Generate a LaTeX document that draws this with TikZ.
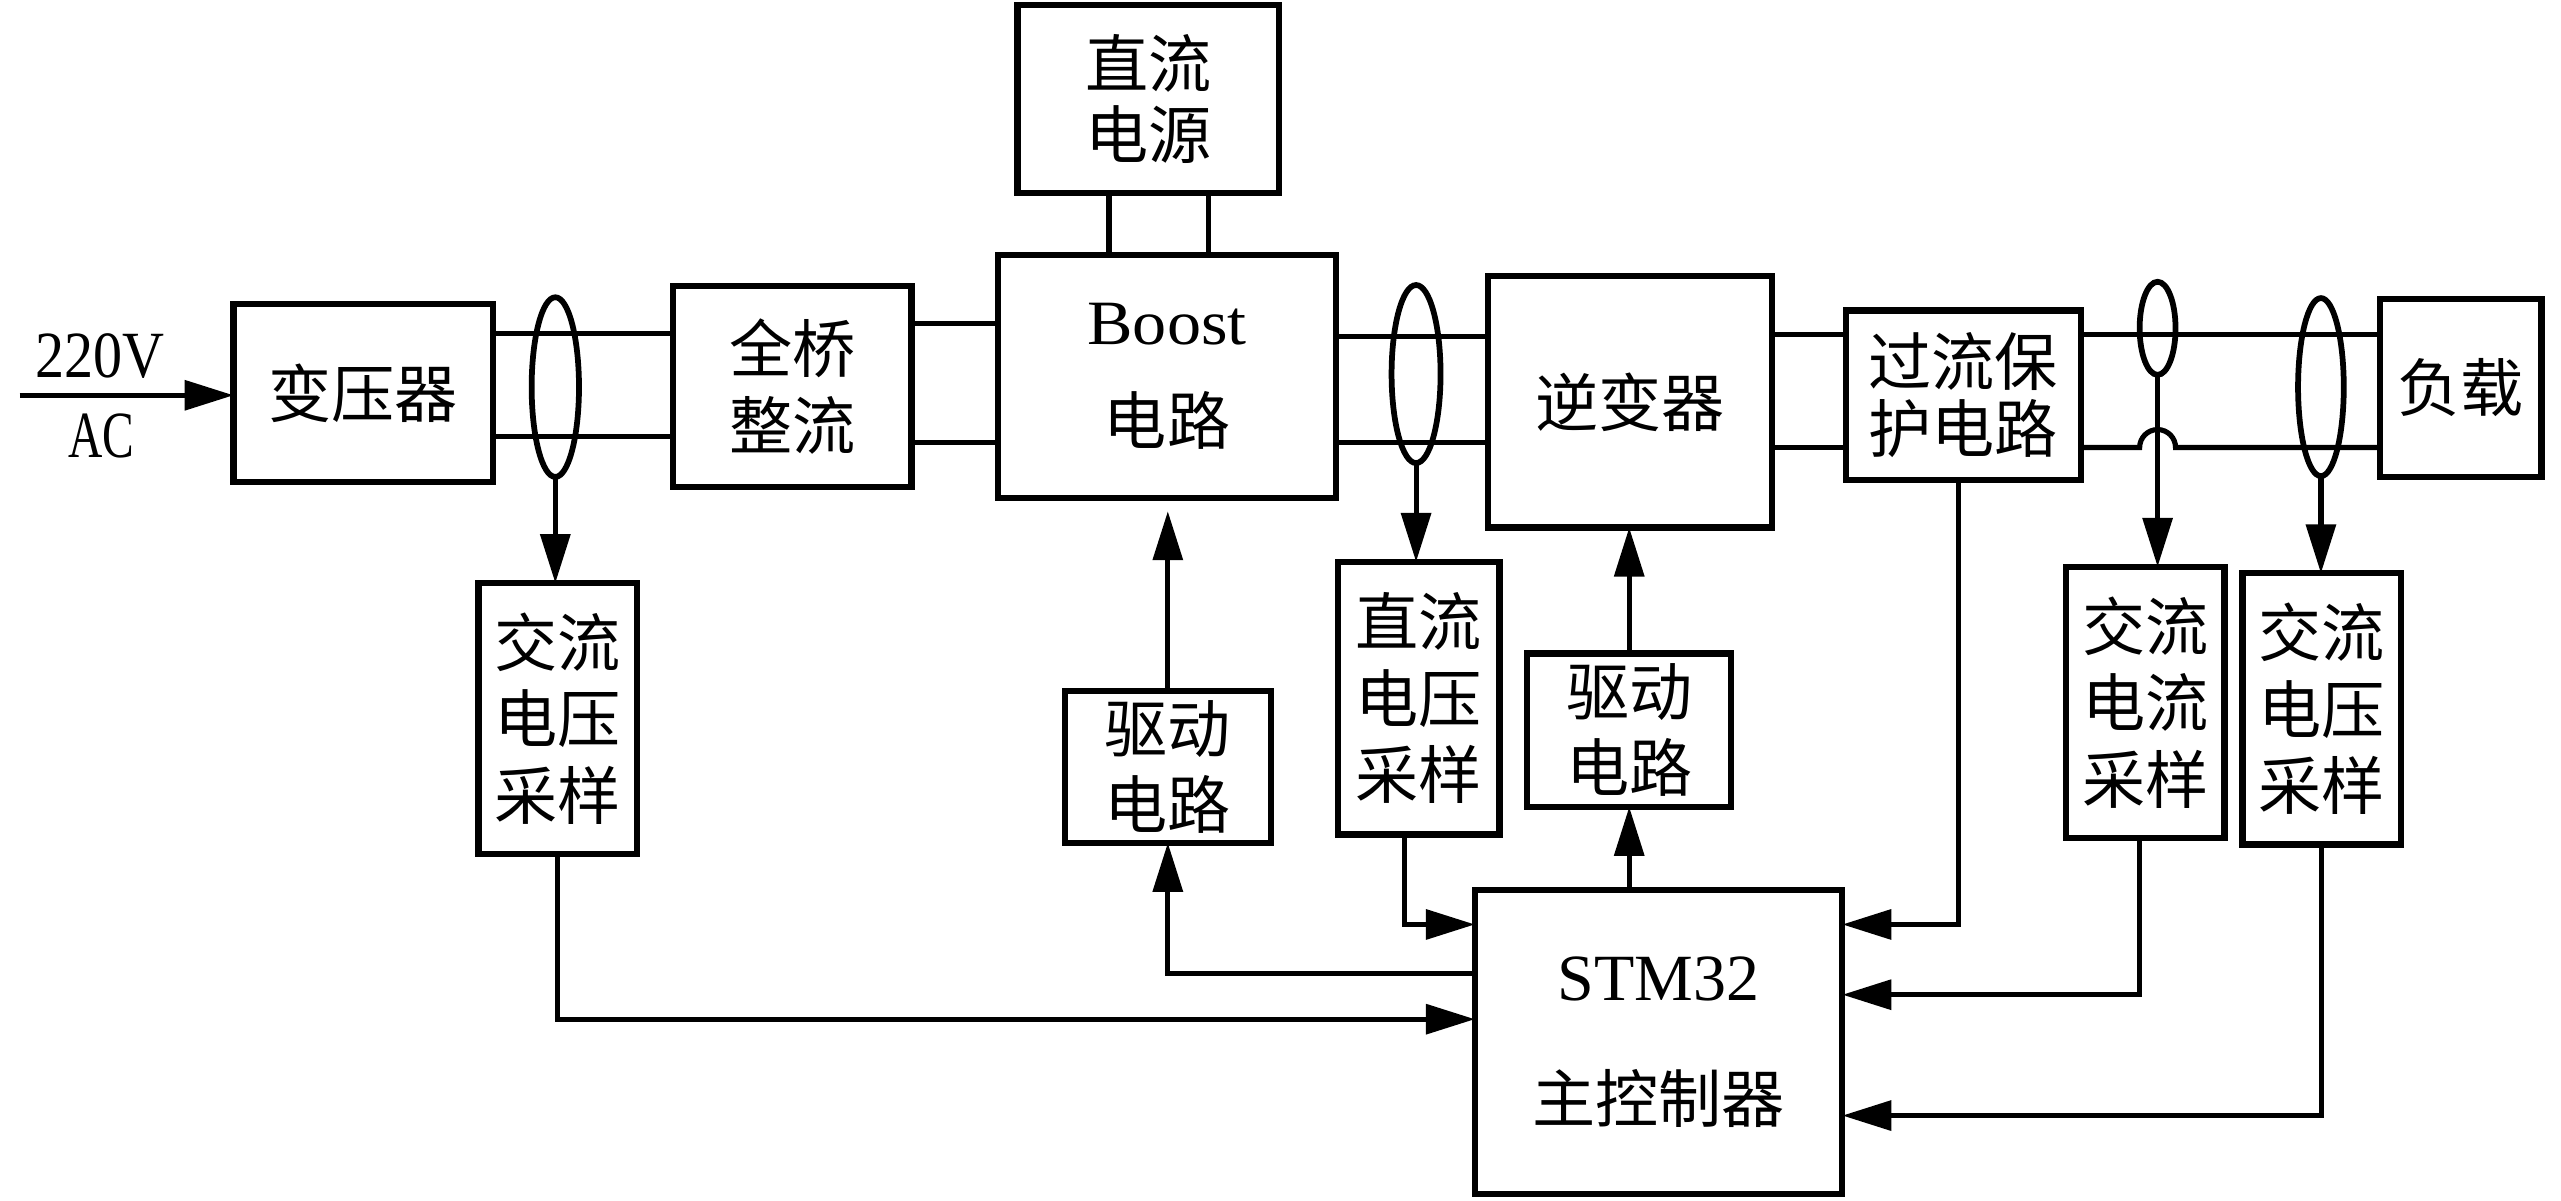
\documentclass[tikz,border=0pt]{standalone}
\usepackage{fontspec}
\setmainfont{Liberation Serif}
\newfontfamily\cjk{Noto Sans CJK SC}
\newfontfamily\lat{Liberation Serif}
\usetikzlibrary{arrows.meta,shapes.geometric}
\tikzset{
 blk/.style={draw, line width=2.2pt, inner sep=0pt, outer sep=0pt, align=center, font=\cjk\fontsize{22}{26.7}\selectfont},
 ring/.style={draw, ellipse, line width=2pt, inner sep=0pt, outer sep=0pt},
 wire/.style={line width=1.8pt},
 arr/.style={wire, -{Triangle[length=0.6cm,width=0.36cm]}},
 lbl/.style={inner sep=0pt, font=\lat\fontsize{23}{23}\selectfont},
}
\begin{document}
\begin{tikzpicture}[x=0.02cm,y=-0.02cm]
\useasboundingbox (0,0) rectangle (1568,735);
% blocks
\node[blk, minimum width=3.18cm, minimum height=2.18cm] (xfmr) at (222.5,240.5) {变压器};
\node[blk, minimum width=2.92cm, minimum height=2.46cm] (rect) at (485,236.5) {全桥\\整流};
\node[blk, minimum width=3.2cm, minimum height=2.3cm, font=\cjk\fontsize{22}{24.5}\selectfont] (dcs) at (703,60.5) {直流\\电源};
\node[blk, minimum width=4.14cm, minimum height=2.98cm] (boost) at (714.5,230.5) {{\lat\fontsize{22}{22}\selectfont\scalebox{1.08}[1]{Boost}}\\[8pt]电路};
\node[blk, minimum width=3.48cm, minimum height=3.08cm] (inv) at (998,246) {逆变器};
\node[blk, minimum width=2.88cm, minimum height=2.08cm, font=\cjk\fontsize{22}{23.5}\selectfont] (ocp) at (1202,242) {过流保\\护电路};
\node[blk, minimum width=1.98cm, minimum height=2.18cm] (load) at (1506.5,237.5) {负载};
\node[blk, minimum width=1.94cm, minimum height=3.32cm] (acvL) at (341.5,440) {交流\\电压\\采样};
\node[blk, minimum width=2.52cm, minimum height=1.86cm] (drvL) at (715,469.5) {驱动\\电路};
\node[blk, minimum width=1.98cm, minimum height=3.34cm] (dcv) at (868.5,427.5) {直流\\电压\\采样};
\node[blk, minimum width=2.5cm, minimum height=1.88cm] (drvR) at (997.5,447) {驱动\\电路};
\node[blk, minimum width=4.5cm, minimum height=3.72cm] (stm) at (1015.5,638) {{\lat\fontsize{23}{23}\selectfont STM32}\\[16pt]主控制器};
\node[blk, minimum width=1.94cm, minimum height=3.32cm] (aci) at (1313.5,430) {交流\\电流\\采样};
\node[blk, minimum width=1.94cm, minimum height=3.32cm] (acvR) at (1421.5,434) {交流\\电压\\采样};
% sensing rings
\node[ring, minimum width=0.58cm, minimum height=2.2cm] (e1) at (340,237) {};
\node[ring, minimum width=0.6cm, minimum height=2.18cm] (e2) at (867,229) {};
\node[ring, minimum width=0.44cm, minimum height=1.14cm] (e3) at (1321,201) {};
\node[ring, minimum width=0.56cm, minimum height=2.18cm] (e4) at (1421,237) {};
% input
\coordinate (in) at (12,242);
\node[lbl] (v220) at (61,218) {\scalebox{0.88}[1]{220V}};
\node[lbl] (ac) at (62,267) {\scalebox{0.72}[1]{AC}};
\draw[arr] (in) -- (xfmr.west |- in);
% levels
\coordinate (L1a) at (0,204); \coordinate (L1b) at (0,267);
\coordinate (L2a) at (0,198); \coordinate (L2b) at (0,271);
\coordinate (L3a) at (0,206); \coordinate (L3b) at (0,271);
\coordinate (L4a) at (0,205); \coordinate (L4b) at (0,274);
\coordinate (P1) at (679,0); \coordinate (P2) at (740,0);
\coordinate (yA) at (0,566); \coordinate (yB) at (0,596); \coordinate (yC) at (0,624);
\coordinate (yD) at (0,609); \coordinate (yE) at (0,683);
% power path
\draw[wire] (xfmr.east |- L1a) -- (rect.west |- L1a);
\draw[wire] (xfmr.east |- L1b) -- (rect.west |- L1b);
\draw[wire] (rect.east |- L2a) -- (boost.west |- L2a);
\draw[wire] (rect.east |- L2b) -- (boost.west |- L2b);
\draw[wire] (dcs.south -| P1) -- (boost.north -| P1);
\draw[wire] (dcs.south -| P2) -- (boost.north -| P2);
\draw[wire] (boost.east |- L3a) -- (inv.west |- L3a);
\draw[wire] (boost.east |- L3b) -- (inv.west |- L3b);
\draw[wire] (inv.east |- L4a) -- (ocp.west |- L4a);
\draw[wire] (inv.east |- L4b) -- (ocp.west |- L4b);
\draw[wire] (ocp.east |- L4a) -- (load.west |- L4a);
\coordinate (hop) at (e3.south |- L4b);
\draw[wire] (ocp.east |- L4b) -- ([xshift=-0.22cm]hop) arc[start angle=180, end angle=0, radius=0.22cm] -- (load.west |- L4b);
% sensing arrows
\draw[arr] (e1.south) -- (e1.south |- acvL.north);
\draw[arr] (e2.south) -- (e2.south |- dcv.north);
\draw[arr] (e3.south) -- (e3.south |- aci.north);
\draw[arr] (e4.south) -- (e4.south |- acvR.north);
% drive arrows
\draw[arr, shorten >=0.16cm] (drvL.north) -- (drvL.north |- boost.south);
\draw[arr] (drvR.north) -- (drvR.north |- inv.south);
\draw[arr] (stm.west |- yB) -| (drvL.south);
\draw[arr] (stm.north -| drvR.south) -- (drvR.south);
% feedback to controller
\draw[arr] (acvL.south) |- (stm.west |- yC);
\draw[arr] ([xshift=-0.17cm]dcv.south) |- (stm.west |- yA);
\draw[arr] ([xshift=-0.06cm]ocp.south) |- (stm.east |- yA);
\draw[arr] ([xshift=-0.07cm]aci.south) |- (stm.east |- yD);
\draw[arr] (acvR.south) |- (stm.east |- yE);
\end{tikzpicture}
\end{document}
